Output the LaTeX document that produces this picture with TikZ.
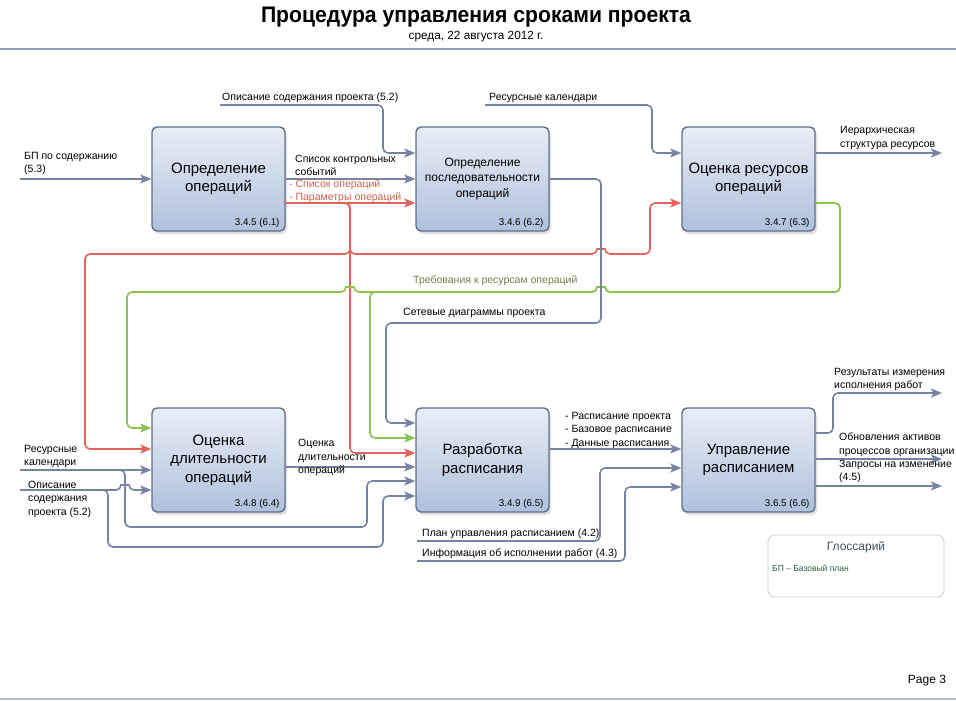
\documentclass[tikz,border=0pt]{standalone}
\usepackage{fontspec}
\setmainfont{Liberation Sans}
\usetikzlibrary{arrows.meta,shadows,calc}
\definecolor{lgrey}{HTML}{7783A0}
\definecolor{lred}{HTML}{E0645A}
\definecolor{lgreen}{HTML}{8DC152}
\definecolor{boxtop}{HTML}{E8EEF7}
\definecolor{boxbot}{HTML}{AFC1DB}
\definecolor{boxedge}{HTML}{5E6E88}
\definecolor{reqtext}{HTML}{6E8248}
\definecolor{redtext}{HTML}{D0604F}
\definecolor{rulec}{HTML}{8FA0B8}
\definecolor{glosst}{HTML}{3F5060}
\definecolor{glossb}{HTML}{2F5A3A}
\tikzset{
  x=1pt, y=-1pt,
  procbox/.style={draw=boxedge, line width=1.4pt, rounded corners=5pt,
    top color=boxtop, bottom color=boxbot, minimum width=133pt, minimum height=104pt,
    align=center, inner sep=2pt,
    drop shadow={shadow xshift=2pt, shadow yshift=-3pt, opacity=0.25},
    font=\fontsize{15}{18.5}\selectfont},
  numlab/.style={font=\fontsize{9.8}{11}\selectfont, inner sep=0pt, anchor=south east},
  lab/.style={font=\fontsize{10.5}{13.5}\selectfont, inner sep=0pt, anchor=west, align=left},
  conn/.style={line width=1.6pt, rounded corners=5pt, -{Stealth[length=11pt,width=9pt,inset=2.5pt]}},
  gconn/.style={conn, draw=lgrey, color=lgrey},
  rconn/.style={conn, draw=lred, color=lred},
  grconn/.style={conn, draw=lgreen, color=lgreen},
}
\begin{document}
\begin{tikzpicture}
\useasboundingbox (0,0) rectangle (956,701);
% title
\node[font=\bfseries\fontsize{22.5}{26}\selectfont] (title) at (476,17) {\scalebox{0.94}[1]{Процедура управления сроками проекта}};
\node[font=\fontsize{11.8}{14}\selectfont] (subtitle) at (476,37) {среда, 22 августа 2012 г.};
\draw[rulec, line width=2pt] (0,49) -- (956,49);
\draw[rulec!70, line width=1.2pt] (0,699) -- (956,699);
\node[font=\fontsize{12}{14}\selectfont] (page) at (927,681) {Page 3};

% boxes
\node[procbox] (A) at (218.5,179) {Определение\\операций};
\node[procbox, font=\fontsize{12}{15.5}\selectfont] (B) at (482.5,179) {Определение\\последовательности\\операций};
\node[procbox] (C) at (748.5,179) {Оценка ресурсов\\операций};
\node[procbox] (D) at (218.5,460) {Оценка\\длительности\\операций};
\node[procbox] (E) at (482.5,460) {Разработка\\расписания};
\node[procbox] (F) at (748.5,460) {Управление\\расписанием};
\node[numlab] (An) at ([xshift=-6pt,yshift=4pt]A.south east) {3.4.5 (6.1)};
\node[numlab] (Bn) at ([xshift=-6pt,yshift=4pt]B.south east) {3.4.6 (6.2)};
\node[numlab] (Cn) at ([xshift=-6pt,yshift=4pt]C.south east) {3.4.7 (6.3)};
\node[numlab] (Dn) at ([xshift=-6pt,yshift=4pt]D.south east) {3.4.8 (6.4)};
\node[numlab] (En) at ([xshift=-6pt,yshift=4pt]E.south east) {3.4.9 (6.5)};
\node[numlab] (Fn) at ([xshift=-6pt,yshift=4pt]F.south east) {3.6.5 (6.6)};

% free ends
\coordinate (bp) at (20,179);
\coordinate (opis1) at (220,105);
\coordinate (rk1) at (485,105);
\coordinate (irs) at (942,153);
\coordinate (rk2) at (20,470);
\coordinate (op2) at (20,490);
\coordinate (pu) at (417,541);
\coordinate (ii) at (417,561);
\coordinate (ri) at (942,393);
\coordinate (ob) at (942,459);
\coordinate (zi) at (942,486);

% red connectors
\draw[rconn] (A.east |- 0,203) -- (B.west |- 0,203);
\draw[rconn] (A.east |- 0,203) -- (350,203) -- (350,453) -- (E.west |- 0,453);
\draw[rconn] (A.east |- 0,203) -- (350,203) -- (350,254) -- (85,254) -- (85,449) -- (D.west |- 0,449);
\draw[rconn] (A.east |- 0,203) -- (350,203) -- (350,254) -- (597,254)
   .. controls (597,249) and (605,249) .. (605,254) -- (650,254) -- (650,203) -- (C.west |- 0,203);

% green connectors
\draw[grconn] (C.east |- 0,203) -- (840,203) -- (840,292) -- (605,292)
   .. controls (605,287) and (597,287) .. (597,292) -- (370,292) -- (370,438) -- (E.west |- 0,438);
\draw[grconn] (C.east |- 0,203) -- (840,203) -- (840,292) -- (605,292)
   .. controls (605,287) and (597,287) .. (597,292) -- (354,292)
   .. controls (354,287) and (346,287) .. (346,292) -- (127,292) -- (127,428) -- (D.west |- 0,428);

% grey connectors top
\draw[gconn] (bp) -- (A.west);
\draw[gconn] (opis1) -- (383,105) -- (383,153) -- (B.west |- 0,153);
\draw[gconn] (A.east) -- (B.west);
\draw[gconn] (B.east) -- (601,179) -- (601,323) -- (386,323) -- (386,423) -- (E.west |- 0,423);
\draw[gconn] (rk1) -- (652,105) -- (652,153) -- (C.west |- 0,153);
\draw[gconn] (C.east |- 0,153) -- (irs);

% grey connectors bottom
\draw[gconn] (rk2) -- (D.west |- 0,470);
\draw[gconn] (rk2) -- (125,470) -- (125,527) -- (367,527) -- (367,481) -- (E.west |- 0,481);
\draw[gconn] (op2) -- (121,490) .. controls (121,485) and (129,485) .. (129,490) -- (D.west |- 0,490);
\draw[gconn] (op2) -- (108,490) -- (108,547) -- (383,547) -- (383,496) -- (E.west |- 0,496);
\draw[gconn] (D.east |- 0,467) -- (E.west |- 0,467);
\draw[gconn] (E.east |- 0,449) -- (F.west |- 0,449);
\draw[gconn] (pu) -- (600,541) -- (600,468) -- (F.west |- 0,468);
\draw[gconn] (ii) -- (625,561) -- (625,487) -- (F.west |- 0,487);
\draw[gconn] (F.east |- 0,433) -- (833,433) -- (833,393) -- (ri);
\draw[gconn] (F.east |- 0,459) -- (ob);
\draw[gconn] (F.east |- 0,486) -- (zi);

% labels
\node[lab] (lbp) at (24,163.5) {БП по содержанию\\(5.3)};
\node[lab] (lopis1) at (222,98) {Описание содержания проекта (5.2)};
\node[lab] (lks) at (295,165.5) {Список контрольных\\событий};
\node[lab, text=redtext] (lso) at (289,185) {- Список операций};
\node[lab, text=redtext] (lpo) at (289,198) {- Параметры операций};
\node[lab] (lrk1) at (489,98) {Ресурсные календари};
\node[lab] (lirs) at (840,138) {Иерархическая\\структура ресурсов};
\node[lab, text=reqtext] (lreq) at (413,281) {Требования к ресурсам операций};
\node[lab] (lnet) at (403,313) {Сетевые диаграммы проекта};
\node[lab] (lrk2) at (24,456.5) {Ресурсные\\календари};
\node[lab] (lop2) at (28,499) {Описание\\содержания\\проекта (5.2)};
\node[lab] (lde) at (298,457.5) {Оценка\\длительности\\операций};
\node[lab] (lef) at (565,430) {- Расписание проекта\\- Базовое расписание\\- Данные расписания};
\node[lab] (lpu) at (422,534) {План управления расписанием (4.2)};
\node[lab] (lii) at (422,554) {Информация об исполнении работ (4.3)};
\node[lab] (lri) at (834,379.5) {Результаты измерения\\исполнения работ};
\node[lab] (lob) at (839,444.5) {Обновления активов\\процессов организации};
\node[lab] (lzi) at (839,471.5) {Запросы на изменение\\(4.5)};

% glossary
\node[draw=black!20, line width=0.8pt, rounded corners=7pt, minimum width=176pt, minimum height=62pt] (gl) at (856,566) {};
\node[font=\fontsize{12}{14}\selectfont, text=glosst] (glt) at (856,547) {Глоссарий};
\node[font=\fontsize{8.5}{10}\selectfont, text=glossb, anchor=west, inner sep=0pt] (glb) at (772,568) {БП – Базовый план};
\end{tikzpicture}
\end{document}
